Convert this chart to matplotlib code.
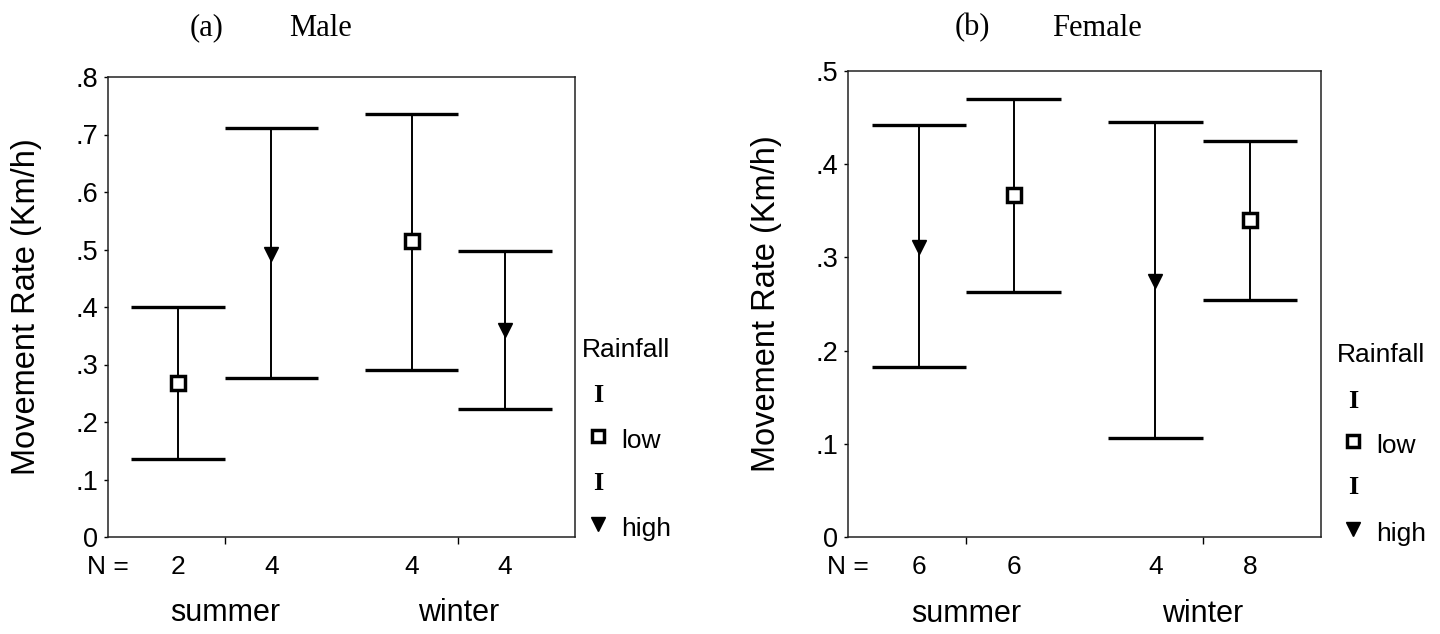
import matplotlib.pyplot as plt

# Movement rate, mean and 95% CI, in the order drawn left to right
seasons = ["summer", "winter"]

male_rain = ["low", "high", "low", "high"]
male_n = [2, 4, 4, 4]
male_mean = [0.267, 0.493, 0.514, 0.360]
male_lo = [0.136, 0.276, 0.290, 0.223]
male_hi = [0.400, 0.711, 0.735, 0.498]

female_rain = ["high", "low", "high", "low"]
female_n = [6, 6, 4, 8]
female_mean = [0.311, 0.367, 0.275, 0.340]
female_lo = [0.182, 0.263, 0.106, 0.254]
female_hi = [0.442, 0.470, 0.445, 0.425]

male_yticks = [0, 0.1, 0.2, 0.3, 0.4, 0.5, 0.6, 0.7, 0.8]
female_yticks = [0, 0.1, 0.2, 0.3, 0.4, 0.5]

SANS = "Liberation Sans"
SERIF = "Liberation Serif"
W, H = 1440, 634


def tick_label(v):
    return "0" if v == 0 else ("%.1f" % v).lstrip("0")


def panel(ax, rain, n, mean, lo, hi, yticks):
    # two bars per season, dodged around the season position
    xs = []
    for i in range(len(mean)):
        g = 1 + 2 * (i // 2)
        xs.append(g - 0.4 if i % 2 == 0 else g + 0.4)
    for x, r, m, a, b in zip(xs, rain, mean, lo, hi):
        ax.vlines(x, a, b, color="black", lw=1.4)
        ax.hlines([a, b], x - 0.4, x + 0.4, color="black", lw=2.4)
        if r == "low":
            ax.plot(x, m, marker="s", ms=9.5, mfc="white", mec="black", mew=2.5)
        else:
            ax.plot(x, m, marker="v", ms=10.5, color="black")
    ax.set_xlim(0, 4)
    ax.set_ylim(yticks[0], yticks[-1])
    ax.set_yticks(yticks)
    ax.set_yticklabels([tick_label(v) for v in yticks], family=SANS, fontsize=19.5)
    ax.set_xticks([1, 3])
    ax.set_xticklabels([])
    ax.tick_params(axis="y", length=3, width=1, pad=4)
    ax.tick_params(axis="x", length=5, width=1)
    for s in ax.spines.values():
        s.set_linewidth(1.1)
        s.set_color("#222222")
    ax.set_ylabel("Movement Rate (Km/h)", family=SANS, fontsize=23.5, labelpad=24)

    tr = ax.get_xaxis_transform()
    ax.text(0, -0.065, "N =", transform=tr, ha="center", va="center",
            family=SANS, fontsize=19)
    for x, k in zip(xs, n):
        ax.text(x, -0.065, str(k), transform=tr, ha="center", va="center",
                family=SANS, fontsize=19)
    for g, s in zip([1, 3], seasons):
        ax.text(g, -0.165, s, transform=tr, ha="center", va="center",
                family=SANS, fontsize=22)


fig = plt.figure(figsize=(W / 100, H / 100), dpi=100)
ax1 = fig.add_axes([108 / W, 1 - 537 / H, 467 / W, 460 / H])
ax2 = fig.add_axes([848 / W, 1 - 537 / H, 473 / W, 466 / H])

panel(ax1, male_rain, male_n, male_mean, male_lo, male_hi, male_yticks)
panel(ax2, female_rain, female_n, female_mean, female_lo, female_hi, female_yticks)


def px(x, y):
    return x / W, 1 - y / H


# titles
fig.text(*px(207, 28), "(a)", ha="center", va="center", family=SERIF, fontsize=22)
fig.text(*px(320, 28), "Male", ha="center", va="center", family=SERIF, fontsize=22)
fig.text(*px(972, 28), "(b)", ha="center", va="center", family=SERIF, fontsize=22)
fig.text(*px(1097, 28), "Female", ha="center", va="center", family=SERIF, fontsize=22)

# legends
for x0, dy in [(582, 0), (1337, 5)]:
    fig.text(*px(x0, 350 + dy), "Rainfall", ha="left", va="center", family=SANS, fontsize=19)
    fig.text(*px(x0 + 16, 396 + dy), "I", ha="center", va="center",
             family=SERIF, fontweight="bold", fontsize=19)
    fig.text(*px(x0 + 16, 483 + dy), "I", ha="center", va="center",
             family=SERIF, fontweight="bold", fontsize=19)
    fig.lines.append(plt.Line2D([(x0 + 16) / W], [1 - (436 + dy) / H], marker="s", ms=8.5,
                                mfc="white", mec="black", mew=2.5, transform=fig.transFigure))
    fig.lines.append(plt.Line2D([(x0 + 16) / W], [1 - (524 + dy) / H], marker="v", ms=10,
                                color="black", transform=fig.transFigure))
    fig.text(*px(x0 + 39, 441 + dy), "low", ha="left", va="center", family=SANS, fontsize=19)
    fig.text(*px(x0 + 39, 529 + dy), "high", ha="left", va="center", family=SANS, fontsize=19)

fig.savefig("out.png", dpi=100)
